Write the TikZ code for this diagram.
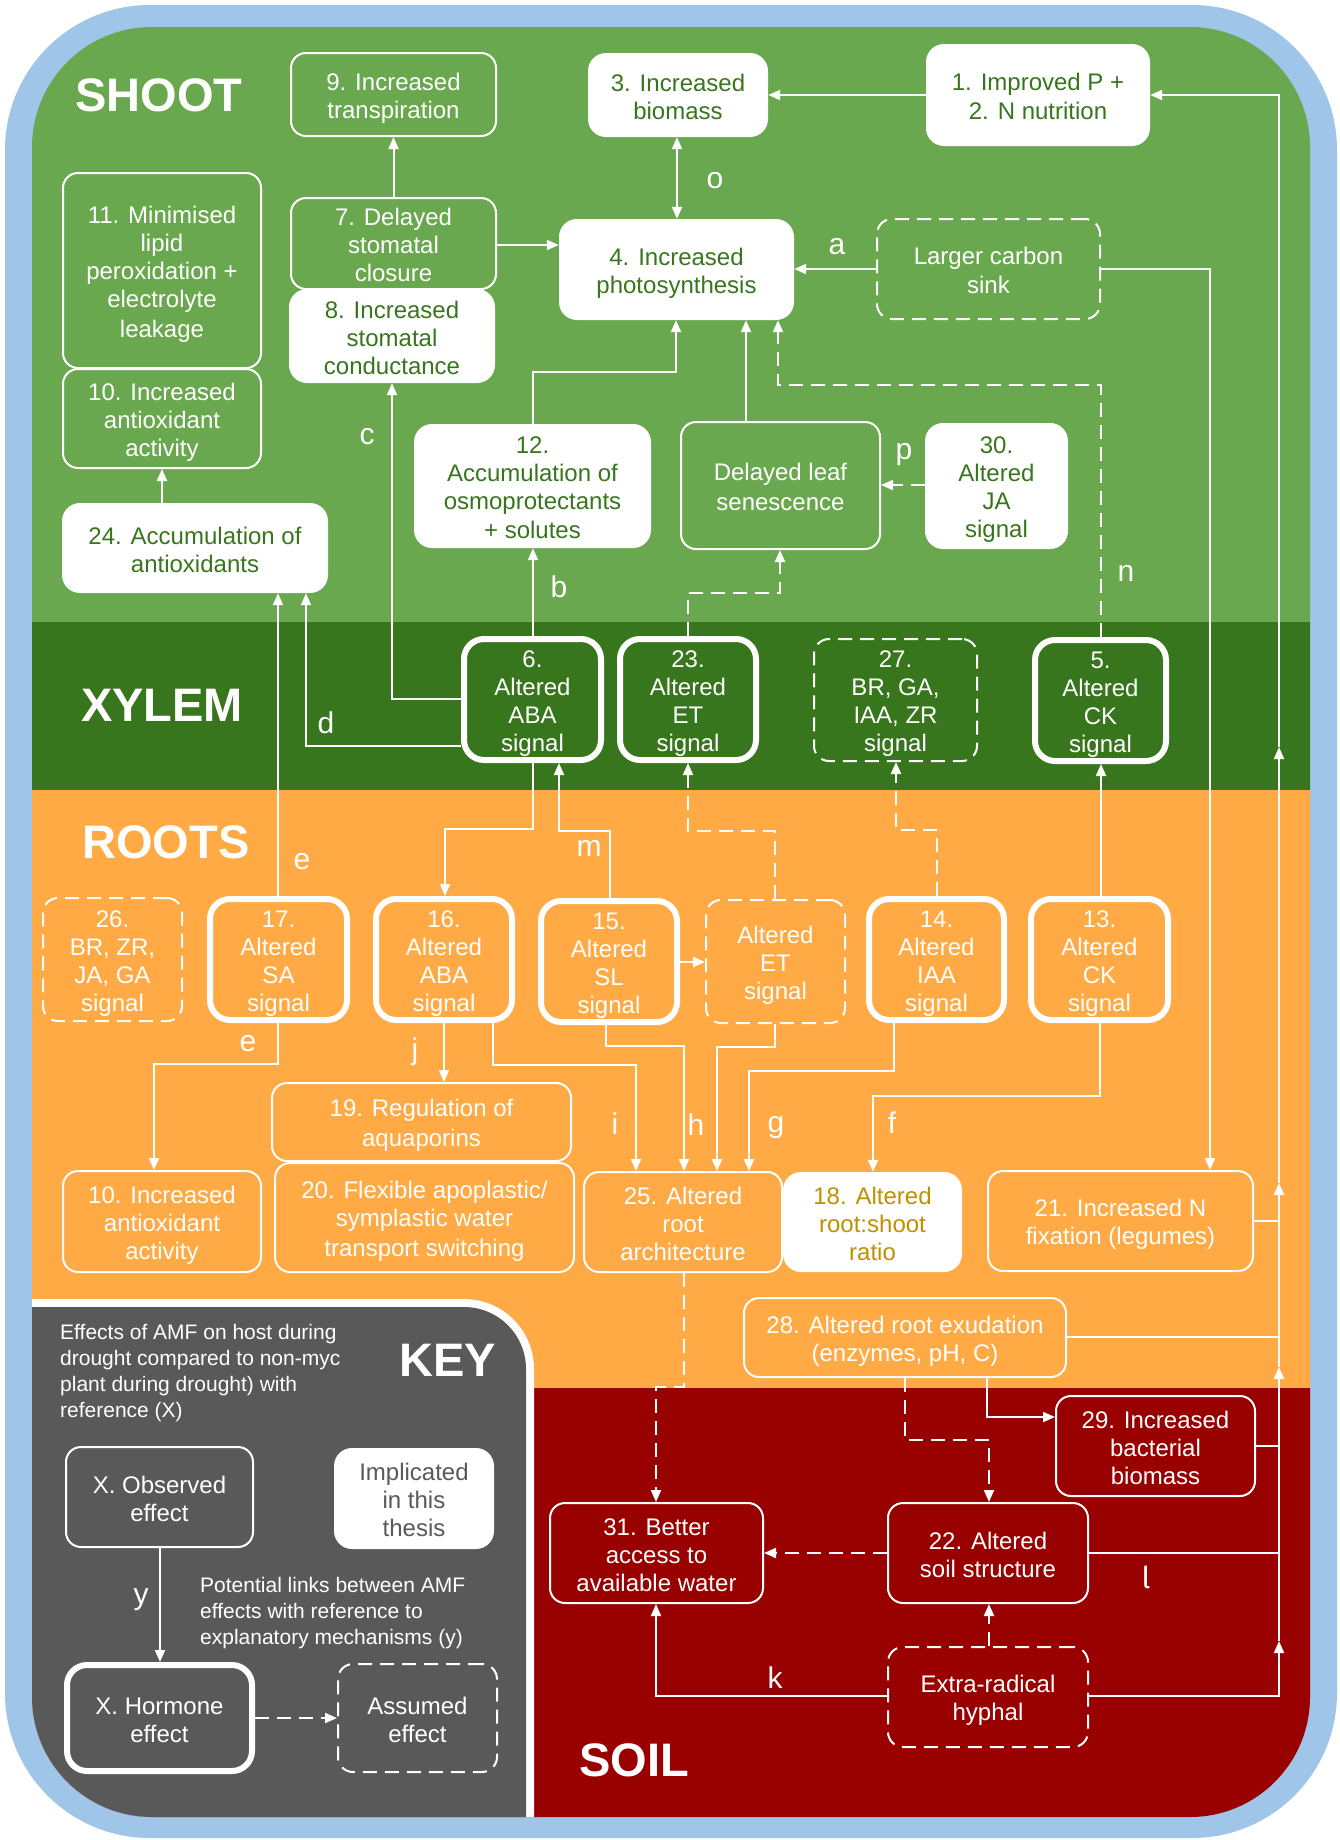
\documentclass[tikz,border=0pt]{standalone}
\usepackage{fontspec}
\setmainfont{Liberation Sans}
\newfontfamily\firafont{Fira Sans}
\usetikzlibrary{arrows.meta}
\definecolor{bluefr}{HTML}{9FC5E8}
\definecolor{shootg}{HTML}{6AA84F}
\definecolor{xylg}{HTML}{38761D}
\definecolor{rooto}{HTML}{FFAA44}
\definecolor{soilr}{HTML}{990000}
\definecolor{keyg}{HTML}{595959}
\definecolor{olivet}{HTML}{BF9000}
\newcommand\lnstrut{\rule[-4pt]{0pt}{28pt}}
\tikzset{
 base/.style={inner sep=0pt, align=center, font=\fontsize{24}{28}\selectfont, text=white},
 thinbox/.style={base, draw=white, line width=2pt, rounded corners=15pt},
 dbox/.style={thinbox, dash pattern=on 14pt off 8pt},
 hbox/.style={base, draw=white, line width=6pt, rounded corners=20pt},
 wbox/.style={base, fill=white, rounded corners=18pt, text=xylg},
 conn/.style={draw=white, line width=2pt, -{Triangle[length=12pt,width=10pt]}},
 dblconn/.style={draw=white, line width=2pt, {Triangle[length=12pt,width=10pt]}-{Triangle[length=12pt,width=10pt]}},
 dconn/.style={conn, dash pattern=on 14pt off 8pt},
 plainline/.style={draw=white, line width=2pt},
 lbl/.style={text=white, font=\fontsize{30}{30}\selectfont, inner sep=0pt},
 zone/.style={text=white, font=\bfseries\fontsize{47}{47}\selectfont, inner sep=0pt},
 keytext/.style={text=white, font=\fontsize{21}{26}\selectfont, inner sep=0pt, align=left, anchor=north west},
}
\newcommand\bx[7]{\node[#6, minimum width={#4-#2}, minimum height={#5-#3}] (#1) at ({(#2+#4)/2},{(#3+#5)/2}) {\lnstrut#7\lnstrut};}
\begin{document}
\begin{tikzpicture}[x=1pt,y=-1pt]
\useasboundingbox (0,0) rectangle (1340,1840);
\fill[white] (0,0) rectangle (1340,1840);
\fill[bluefr, rounded corners=145pt] (5,5) rectangle (1337,1838);
\begin{scope}
 \clip[rounded corners=120pt] (32,27) rectangle (1310,1817);
 \fill[shootg] (0,0) rectangle (1340,622);
 \fill[xylg] (0,622) rectangle (1340,790);
 \fill[rooto] (0,790) rectangle (1340,1388);
 \fill[soilr] (0,1388) rectangle (1340,1840);
 \fill[white, rounded corners=70pt] (-200,1299) rectangle (534,1990);
 \fill[keyg, rounded corners=62pt] (-200,1307) rectangle (526,1990);
\end{scope}
% zone titles
\node[zone] (tshoot) at (159,95) {SHOOT};
\node[zone] (txylem) at (162,705) {XYLEM};
\node[zone] (troots) at (166,842) {ROOTS};
\node[zone] (tsoil) at (634,1760) {SOIL};
\node[zone] (tkey) at (448,1360) {KEY};
% shoot
\bx{n9}{291}{53}{496}{136}{thinbox}{9. Increased\\transpiration}
\bx{n3}{588}{53}{768}{137}{wbox}{3. Increased\\biomass}
\bx{n1}{926}{44}{1150}{146}{wbox}{1. Improved P +\\2. N nutrition}
\bx{n11}{63}{173}{261}{368}{thinbox}{11. Minimised\\lipid\\peroxidation +\\electrolyte\\leakage}
\bx{n10s}{63}{369}{261}{468}{thinbox}{10. Increased\\antioxidant\\activity}
\bx{n7}{291}{198}{496}{289}{thinbox}{7. Delayed\\stomatal\\closure}
\bx{n8}{289}{289}{495}{383}{wbox}{8. Increased\\stomatal\\conductance}
\bx{n4}{559}{219}{794}{320}{wbox}{4. Increased\\photosynthesis}
\bx{sink}{877}{219}{1100}{319}{dbox}{Larger carbon\\sink}
\bx{n24}{62}{503}{328}{593}{wbox}{24. Accumulation of\\antioxidants}
\bx{n12}{414}{424}{651}{548}{wbox}{12.\\Accumulation of\\osmoprotectants\\+ solutes}
\bx{dls}{681}{422}{880}{549}{thinbox}{Delayed leaf\\senescence}
\bx{n30}{925}{423}{1068}{549}{wbox}{30.\\Altered\\JA\\signal}
% xylem
\bx{n6}{464}{639}{601}{760}{hbox}{6.\\Altered\\ABA\\signal}
\bx{n23}{620}{639}{756}{760}{hbox}{23.\\Altered\\ET\\signal}
\bx{n27}{814}{639}{977}{761}{dbox}{27.\\BR, GA,\\IAA, ZR\\signal}
\bx{n5}{1035}{640}{1166}{761}{hbox}{5.\\Altered\\CK\\signal}
% roots
\bx{n26}{43}{898}{182}{1021}{dbox}{26.\\BR, ZR,\\JA, GA\\signal}
\bx{n17}{210}{899}{347}{1020}{hbox}{17.\\Altered\\SA\\signal}
\bx{n16}{376}{899}{512}{1020}{hbox}{16.\\Altered\\ABA\\signal}
\bx{n15}{541}{901}{677}{1022}{hbox}{15.\\Altered\\SL\\signal}
\bx{etr}{706}{900}{845}{1023}{dbox}{Altered\\ET\\signal}
\bx{n14}{869}{899}{1004}{1020}{hbox}{14.\\Altered\\IAA\\signal}
\bx{n13}{1031}{899}{1168}{1020}{hbox}{13.\\Altered\\CK\\signal}
\bx{n10r}{63}{1171}{261}{1272}{thinbox}{10. Increased\\antioxidant\\activity}
\bx{n19}{272}{1083}{571}{1161}{thinbox}{19. Regulation of\\aquaporins}
\bx{n20}{275}{1163}{574}{1272}{thinbox}{20. Flexible apoplastic/\\symplastic water\\transport switching}
\bx{n25}{584}{1172}{782}{1272}{thinbox}{25. Altered\\root\\architecture}
\bx{n18}{783}{1172}{962}{1272}{wbox,text=olivet}{18. Altered\\root:shoot\\ratio}
\bx{n21}{988}{1171}{1253}{1271}{thinbox}{21. Increased N\\fixation (legumes)}
\bx{n28}{744}{1298}{1066}{1377}{thinbox}{28. Altered root exudation\\(enzymes, pH, C)}
% soil
\bx{n29}{1056}{1396}{1255}{1496}{thinbox}{29. Increased\\bacterial\\biomass}
\bx{n22}{888}{1503}{1088}{1603}{thinbox}{22. Altered\\soil structure}
\bx{n31}{550}{1503}{763}{1603}{thinbox}{31. Better\\access to\\available water}
\bx{hyph}{888}{1647}{1088}{1747}{dbox}{Extra-radical\\hyphal}
% key
\node[keytext] (ktxt1) at (60,1324) {Effects of AMF on host during\\drought compared to non-myc\\plant during drought) with\\reference (X)};
\node[keytext] (ktxt2) at (200,1577) {Potential links between AMF\\effects with reference to\\explanatory mechanisms (y)};
\bx{kobs}{66}{1447}{253}{1547}{thinbox}{X. Observed\\effect}
\bx{kimp}{334}{1448}{494}{1549}{wbox,text=keyg}{Implicated\\in this\\thesis}
\bx{khorm}{67}{1665}{252}{1771}{hbox}{X. Hormone\\effect}
\bx{kass}{338}{1664}{497}{1772}{dbox}{Assumed\\effect}
% connectors shoot
\draw[conn] (n7.north) -- (n9.south);
\draw[conn] (n7.east |- 0,245) -- (n4.west |- 0,245);
\draw[dblconn] (n3.south -| 677,0) -- (n4.north -| 677,0);
\draw[conn] (n1.west |- 0,95) -- (n3.east |- 0,95);
\draw[conn] (sink.west |- 0,269) -- (n4.east |- 0,269);
\draw[conn] (sink.east |- 0,269) -| (n21.north -| 1210,0);
\draw[conn] (n12.north -| 533,0) -- (533,372) -- (676,372) -- (n4.south -| 676,0);
\draw[conn] (dls.north -| 746,0) -- (n4.south -| 746,0);
\draw[dconn] (n5.north -| 1101,0) -- (1101,385) -- (778,385) -- (n4.south -| 778,0);
\draw[dconn] (n30.west |- 0,485) -- (dls.east |- 0,485);
\draw[conn] (n6.north -| 533,0) -- (n12.south -| 533,0);
\draw[dconn] (n23.north -| 688,0) -- (688,593) -- (780,593) -- (dls.south -| 780,0);
\draw[conn] (n6.west |- 0,699) -- (392,699) -- (n8.south -| 392,0);
\draw[conn] (n6.west |- 0,746) -- (306,746) -- (n24.south -| 306,0);
\draw[conn] (n17.north -| 278,0) -- (n24.south -| 278,0);
\draw[conn] (n24.north -| 162,0) -- (n10s.south -| 162,0);
% roots
\draw[conn] (n6.south -| 533,0) -- (533,829) -- (445,829) -- (n16.north -| 445,0);
\draw[conn] (n15.north -| 610,0) -- (610,831) -- (559,831) -- (n6.south -| 559,0);
\draw[dconn] (etr.north -| 775,0) -- (775,831) -- (688,831) -- (n23.south -| 688,0);
\draw[dconn] (n14.north -| 937,0) -- (937,830) -- (896,830) -- (n27.south -| 896,0);
\draw[conn] (n13.north -| 1101,0) -- (n5.south -| 1101,0);
\draw[conn] (n15.east |- 0,962) -- (etr.west |- 0,962);
\draw[conn] (n17.south -| 278,0) -- (278,1064) -- (154,1064) -- (n10r.north -| 154,0);
\draw[conn] (n16.south -| 444,0) -- (n19.north -| 444,0);
\draw[conn] (n16.south -| 493,0) -- (493,1065) -- (636,1065) -- (n25.north -| 636,0);
\draw[conn] (n15.south -| 606,0) -- (606,1046) -- (684,1046) -- (n25.north -| 684,0);
\draw[conn] (etr.south -| 775,0) -- (775,1047) -- (717,1047) -- (n25.north -| 717,0);
\draw[conn] (n14.south -| 894,0) -- (894,1071) -- (749,1071) -- (n25.north -| 749,0);
\draw[conn] (n13.south -| 1100,0) -- (1100,1096) -- (873,1096) -- (n18.north -| 873,0);
% soil
\draw[dconn] (n25.south -| 684,0) -- (684,1387) -- (656,1387) -- (n31.north -| 656,0);
\draw[dconn] (n28.south -| 905,0) -- (905,1440) -- (989,1440) -- (n22.north -| 989,0);
\draw[conn] (n28.south -| 987,0) -- (987,1417) -- (n29.west |- 0,1417);
\draw[dconn] (n22.west |- 0,1553) -- (n31.east |- 0,1553);
\draw[dconn] (hyph.north -| 989,0) -- (n22.south -| 989,0);
\draw[conn] (hyph.west |- 0,1696) -- (656,1696) -- (n31.south -| 656,0);
% trunk
\coordinate (t1) at (1279,1641);
\coordinate (t2) at (1279,1367);
\coordinate (t3) at (1279,1183);
\coordinate (t4) at (1279,747);
\draw[conn] (hyph.east |- 0,1696) -| (t1);
\draw[plainline] (n22.east |- 0,1553) -- (n22.east -| t1);
\draw[plainline] (n29.east |- 0,1446) -- (1279,1446);
\draw[plainline] (n28.east |- 0,1337) -- (1279,1337);
\draw[plainline] (n21.east |- 0,1221) -- (1279,1221);
\draw[conn] (t1) -- (t2);
\draw[conn] (t2) -- (t3);
\draw[conn] (t3) -- (t4);
\draw[conn] (t4) |- (n1.east |- 0,95);
% key connectors
\draw[conn] (kobs.south -| 160,0) -- (khorm.north -| 160,0);
\draw[dconn] (khorm.east |- 0,1718) -- (kass.west |- 0,1718);
% labels
\node[lbl] (la) at (837,247) {a};
\node[lbl] (lb) at (559,587) {b};
\node[lbl] (lc) at (367,437) {c};
\node[lbl] (ld) at (326,723) {d};
\node[lbl] (le1) at (302,862) {e};
\node[lbl] (le2) at (248,1044) {e};
\node[lbl] (lf) at (892,1123) {f};
\node[lbl] (lg) at (776,1128) {g};
\node[lbl] (lh) at (696,1125) {h};
\node[lbl] (li) at (615,1124) {i};
\node[lbl] (lj) at (415,1052) {j};
\node[lbl] (lk) at (775,1678) {k};
\node[lbl] (ll) at (1146,1577) {\firafont l};
\node[lbl] (lm) at (589,848) {m};
\node[lbl] (ln) at (1126,573) {n};
\node[lbl] (lo) at (715,181) {o};
\node[lbl] (lp) at (904,455) {p};
\node[lbl] (ly) at (141,1600) {y};
\end{tikzpicture}
\end{document}
